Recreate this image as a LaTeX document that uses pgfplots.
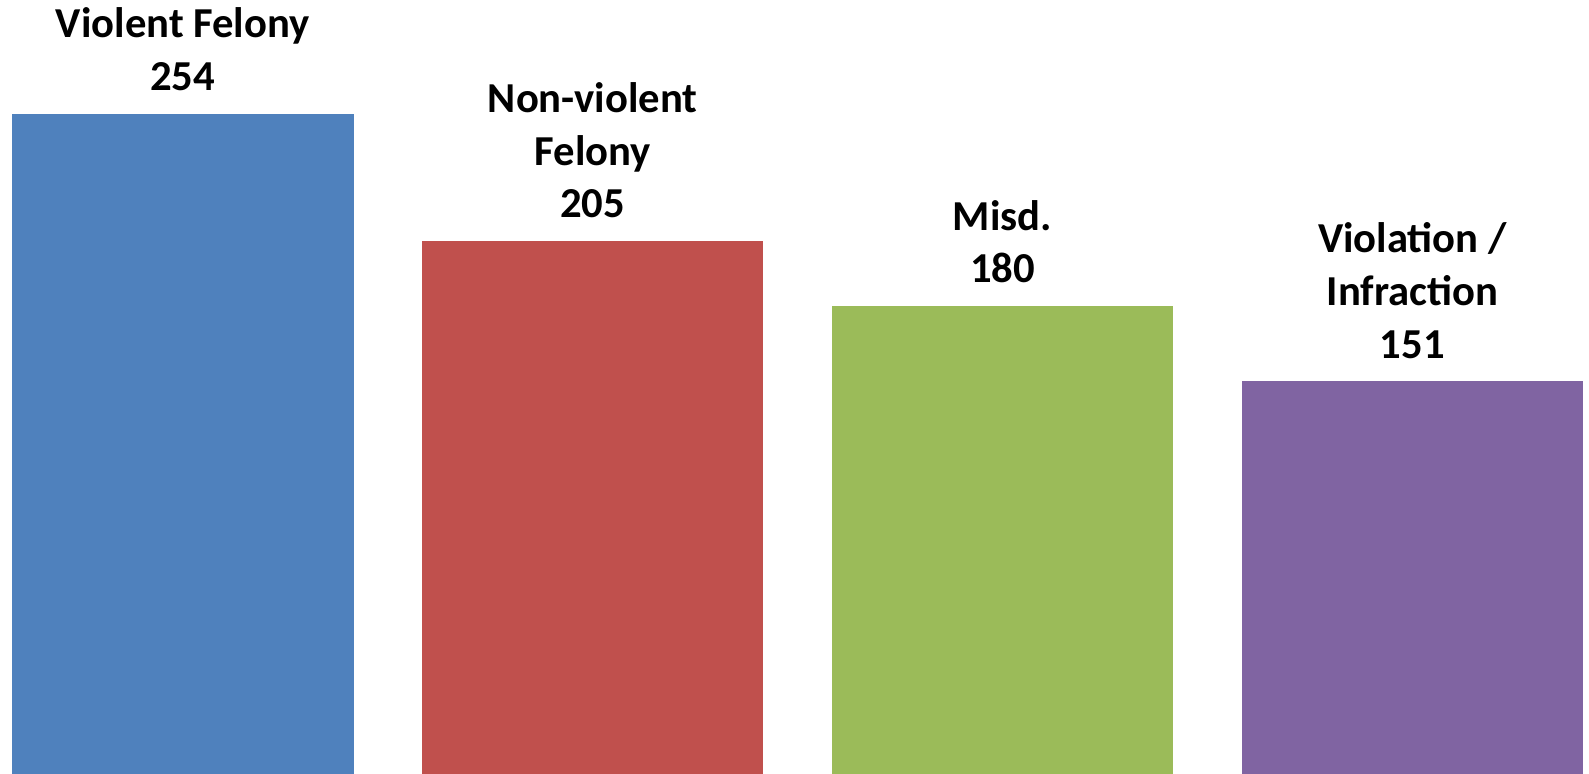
\documentclass[border=0pt]{standalone}
\usepackage{pgfplots}
\pgfplotsset{compat=1.18}
\usepackage{fontspec}
\setmainfont{Carlito}
\definecolor{c1}{HTML}{4F81BD}
\definecolor{c2}{HTML}{C0504D}
\definecolor{c3}{HTML}{9BBB59}
\definecolor{c4}{HTML}{8064A2}
\begin{document}
\begin{tikzpicture}
\begin{axis}[
  scale only axis,
  width=476.7pt, height=232.2pt,
  xmin=-0.446, xmax=3.431,
  ymin=0, ymax=297.7,
  axis lines=none, ticks=none,
  ybar, bar width=0.833, bar shift=0pt,
  nodes near coords,
  point meta=explicit symbolic,
  every node near coord/.append style={font=\fontsize{12.8}{15.8}\selectfont\bfseries, align=center, anchor=south, inner sep=1pt, yshift=5.7pt, text=black},
  clip=false,
]
\path (rel axis cs:0,0) rectangle (rel axis cs:1,1);
\addplot[fill=c1, draw=none] coordinates {(0,254) [Violent Felony\\254]};
\addplot[fill=c2, draw=none] coordinates {(1,205) [Non-violent\\Felony\\205]};
\addplot[fill=c3, draw=none] coordinates {(2,180) [Misd.\\180]};
\addplot[fill=c4, draw=none] coordinates {(3,151) [Violation /\\Infraction\\151]};
\end{axis}
\end{tikzpicture}
\end{document}
